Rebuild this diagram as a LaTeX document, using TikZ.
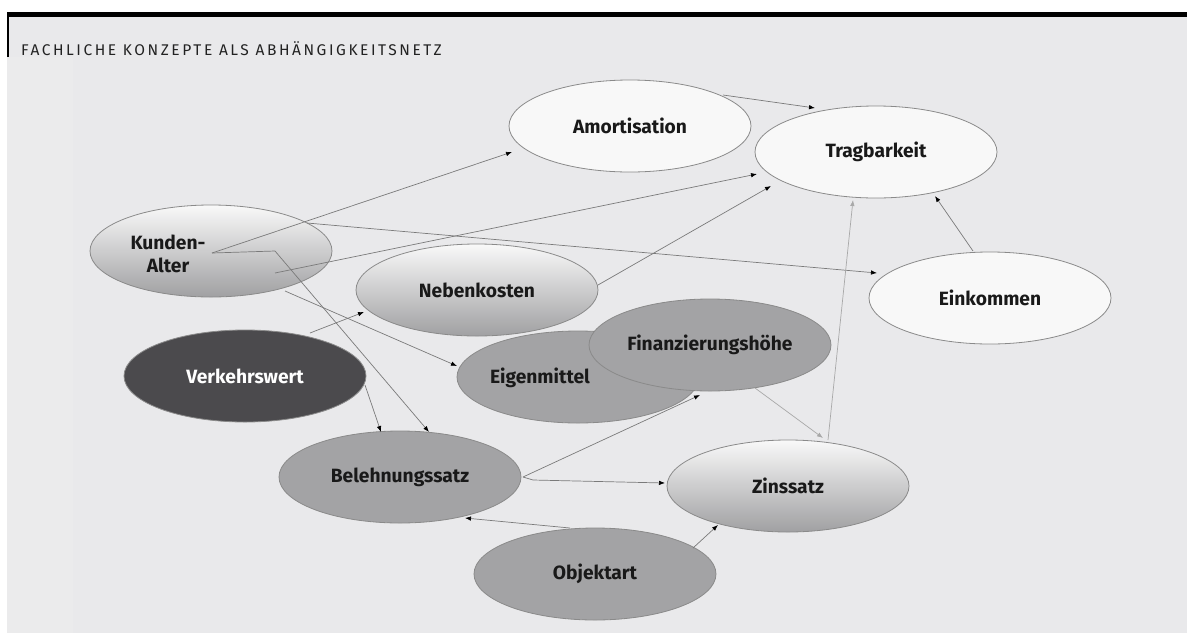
\documentclass[tikz,border=0pt]{standalone}
\usepackage{fontspec}
\setmainfont{Fira Sans}
\usetikzlibrary{shapes.geometric,arrows.meta,calc}
\definecolor{bgc}{HTML}{E9E9EB}
\definecolor{stripc}{HTML}{EBEBEC}
\definecolor{ellc}{HTML}{8A8A8A}
\definecolor{wfill}{HTML}{F8F8F8}
\definecolor{gradtop}{HTML}{F9F9F9}
\definecolor{gradbot}{HTML}{A0A0A2}
\definecolor{midc}{HTML}{A3A3A5}
\definecolor{darkc}{HTML}{4B4A4D}
\definecolor{edgec}{HTML}{7A7A7A}
\definecolor{lightc}{HTML}{A8A8A8}
\definecolor{headc}{HTML}{222222}
\begin{document}
\begin{tikzpicture}[x=1pt,y=-1pt,
  ell/.style={ellipse, draw=ellc, line width=0.8pt, minimum width=242pt, minimum height=92pt, inner sep=0pt, font=\fontsize{19.2}{23}\selectfont\bfseries, text=black!90},
  whitenode/.style={ell, fill=wfill},
  gradnode/.style={ell, top color=gradtop, bottom color=gradbot},
  midnode/.style={ell, fill=midc},
  darknode/.style={ell, fill=darkc, text=white},
  lbl/.style={inner sep=0pt, font=\fontsize{19.2}{23}\selectfont\bfseries, text=black!90, align=center},
  edge/.style={draw=edgec, line width=0.7pt, -{Latex[length=6pt,width=4.5pt,color=black]}},
  lightedge/.style={draw=lightc, line width=0.7pt, -{Latex[length=6pt,width=4.5pt,color=lightc]}}
]
\useasboundingbox (0,0) rectangle (1187,633);
% background
\fill[bgc] (7,12) rectangle (1187,633);
\fill[stripc] (7,57) rectangle (73,633);
\fill[black] (7,12) rectangle (1187,17);
\fill[black] (7,12) rectangle (9,57);
\node[anchor=base west, inner sep=0pt, text=headc, font=\fontsize{15.5}{18}\selectfont\addfontfeatures{LetterSpace=16.5}] (head) at (21,55.5) {FACHLICHE KONZEPTE ALS ABHÄNGIGKEITSNETZ};

% nodes
\node[whitenode] (am) at (630,126) {Amortisation};
\node[whitenode] (tr) at (876,152) {Tragbarkeit};
\node[gradnode] (ka) at (211,251) {};
\node[lbl] (kat) at (168,253.5) {Kunden-\\Alter};
\node[gradnode] (nk) at (477,290) {Nebenkosten};
\node[whitenode] (ei) at (990,298) {Einkommen};
\node[darknode] (vw) at (245,376) {Verkehrswert};
\node[midnode] (em) at (578,377) {};
\node[lbl] (emt) at (540,378) {Eigenmittel};
\node[midnode] (fh) at (710,345) {Finanzierungshöhe};
\node[midnode] (bs) at (400,477) {Belehnungssatz};
\node[gradnode] (zs) at (788,486) {Zinssatz};
\node[midnode] (oa) at (595,574) {Objektart};

% edges
\draw[edge] ($(ka)+(1,2)$) -- ($(am)+(-118,26)$);
\draw[edge] ($(ka)+(1,2)$) -- ($(ka)+(64,0)$) -- ($(bs)+(29,-45)$);
\draw[edge] ($(ka)+(64,22)$) -- ($(tr)+(-119,22)$);
\draw[edge] ($(ka)+(96,-28)$) -- ($(ei)+(-113,-25)$);
\draw[edge] ($(ka)+(74,40)$) -- ($(em)+(-121,-11)$);
\draw[edge] ($(vw)+(65,-43)$) -- ($(nk)+(-113,22)$);
\draw[edge] ($(vw)+(120,9)$) -- ($(bs)+(-19,-45)$);
\draw[edge] ($(nk)+(121,-5)$) -- ($(tr)+(-105,34)$);
\draw[edge] ($(am)+(93,-31)$) -- ($(tr)+(-61,-44)$);
\draw[edge] ($(ei)+(-17,-47)$) -- ($(tr)+(59,44)$);
\draw[lightedge] ($(zs)+(40,-46)$) -- ($(tr)+(-23,48)$);
\draw[lightedge] ($(fh)+(45,43)$) -- ($(zs)+(35,-48)$);
\draw[edge] ($(bs)+(123,0)$) -- ($(fh)+(-10,50)$);
\draw[edge] ($(bs)+(123,0)$) -- ($(bs)+(133,3)$) -- ($(zs)+(-123,-3)$);
\draw[edge] ($(oa)+(-25,-46)$) -- ($(bs)+(65,41)$);
\draw[edge] ($(oa)+(98,-26)$) -- ($(zs)+(-70,39)$);
\end{tikzpicture}
\end{document}
